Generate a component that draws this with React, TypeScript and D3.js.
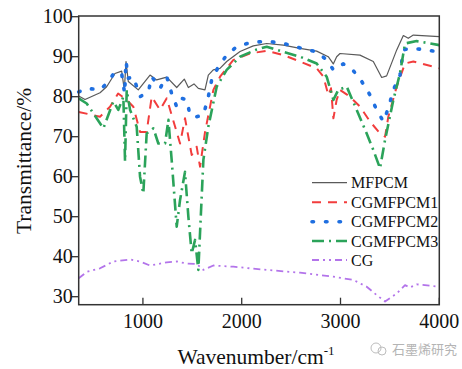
import React, { useEffect, useRef } from "react";
import * as d3 from "d3";

// wavenumber / transmittance pairs
const mfpcm = [
  [350, 80.2], [414, 79.3], [566, 81], [633, 82.5], [717, 85.8], [785, 86.4], [812, 81.7], [829, 88.8],
  [852, 83.8], [953, 81.7], [1072, 85.4], [1139, 84.2], [1241, 84.9], [1342, 82.3], [1419, 84.4],
  [1460, 82.3], [1517, 83.2], [1561, 82.1], [1628, 81.7], [1662, 85.4], [1712, 86.7], [1780, 87.1],
  [1848, 88.8], [1983, 91.3], [2117, 92.7], [2253, 93.3], [2421, 92.9], [2590, 92.1], [2759, 91.4],
  [2876, 90], [2927, 88.2], [2961, 90], [2995, 90.8], [3197, 90.4], [3332, 88.8], [3417, 84.8],
  [3467, 85.2], [3569, 91.7], [3636, 95.3], [3686, 94.6], [3737, 95.4], [4000, 95]
];
const cgmfpcm1 = [
  [350, 76.2], [566, 75], [667, 77.5], [749, 80.8], [836, 79.2], [903, 77.5], [971, 71.2], [1038, 71.2],
  [1089, 80], [1173, 76.7], [1241, 79.6], [1376, 68.3], [1426, 74.6], [1494, 65.4], [1544, 67.5],
  [1578, 62.5], [1629, 71.2], [1713, 81.7], [1781, 85], [1916, 89.2], [2084, 90.8], [2253, 91.5],
  [2422, 90.4], [2590, 88.8], [2759, 87.1], [2827, 85], [2877, 80.4], [2904, 82.1], [2928, 74.6],
  [2961, 79.2], [2995, 81.7], [3096, 80], [3198, 77.5], [3299, 73.8], [3400, 70.8], [3451, 70],
  [3484, 75], [3569, 82.5], [3653, 88.3], [3737, 88.8], [4000, 87.1]
];
const cgmfpcm2 = [
  [350, 81.2], [431, 82.1], [566, 81.7], [633, 83.3], [718, 86.2], [785, 85.8], [815, 80.8], [829, 88.8],
  [853, 84.6], [903, 85], [971, 80], [1055, 81.2], [1089, 85], [1173, 82.1], [1241, 85], [1291, 80.8],
  [1342, 77.5], [1393, 79.6], [1443, 79.2], [1477, 75.4], [1544, 75], [1612, 75.4], [1662, 80],
  [1696, 84.2], [1764, 87.5], [1848, 90.4], [1949, 92.5], [2084, 93.5], [2253, 93.9], [2422, 93.3],
  [2590, 92.2], [2759, 91.2], [2860, 89.2], [2928, 86.7], [3029, 88.2], [3130, 86.5], [3215, 83.8],
  [3299, 80.4], [3366, 76.7], [3434, 73.8], [3484, 77.1], [3535, 81.7], [3602, 85.4], [3636, 91.7],
  [3703, 92.1], [3838, 91.8], [4000, 91.2]
];
const cgmfpcm3 = [
  [350, 79.6], [431, 78.3], [600, 72.1], [701, 78.8], [751, 76.7], [802, 80], [819, 63.8], [836, 81.7],
  [870, 76.7], [937, 72.5], [971, 60], [1004, 55.8], [1038, 70.8], [1106, 72.1], [1156, 68.3],
  [1224, 68.3], [1258, 74.2], [1291, 64.2], [1342, 47.5], [1376, 54.2], [1426, 61.2], [1460, 50],
  [1494, 40.8], [1528, 44.2], [1561, 36.7], [1612, 64.2], [1662, 72.5], [1747, 82.5], [1848, 86.7],
  [1983, 90], [2152, 91.8], [2253, 92.5], [2422, 91.2], [2590, 90], [2759, 88.3], [2860, 85],
  [2928, 79.2], [2978, 81.7], [3063, 82.5], [3164, 76.7], [3265, 70.8], [3332, 66.7], [3400, 62.1],
  [3451, 69.2], [3535, 79.2], [3602, 85.8], [3653, 93.3], [3771, 93.9], [4000, 92.9]
];
const cg = [
  [350, 34.6], [431, 36.2], [566, 37.1], [701, 38.8], [870, 39.3], [971, 38.8], [1072, 37.8],
  [1241, 38.6], [1342, 38.8], [1443, 38.3], [1544, 38.2], [1612, 36.7], [1713, 37.8], [1916, 37.5],
  [2253, 36.7], [2590, 36], [2928, 35], [3130, 34.2], [3265, 32.5], [3366, 30.4], [3451, 28.8],
  [3569, 30.8], [3653, 32.9], [3703, 32.3], [3771, 33.1], [4000, 32.5]
];

const seriesNames = ["MFPCM", "CGMFPCM1", "CGMFPCM2", "CGMFPCM3", "CG"];
const xTicks = [1000, 2000, 3000, 4000];
const yTicks = [30, 40, 50, 60, 70, 80, 90, 100];

const styles = [
  { color: "#5a5a5a", width: 1.2, dash: null, cap: "butt" },
  { color: "#f23d3d", width: 2, dash: "9,7", cap: "butt" },
  { color: "#1f6fe0", width: 3.6, dash: "1.5,12", cap: "round" },
  { color: "#2ba35a", width: 2.6, dash: "12,5,2,5", cap: "butt" },
  { color: "#b374ea", width: 1.8, dash: "7,4,2,4,2,4", cap: "butt" }
];

export default function App() {
  const ref = useRef<SVGSVGElement>(null);

  useEffect(() => {
    const svg = d3.select(ref.current);
    svg.selectAll("*").remove();

    const left = 78.7, right = 439.3, top = 16, bottom = 304.7;
    const x = d3.scaleLinear().domain([350, 4000]).range([left, right]);
    const y = d3.scaleLinear().domain([28, 100]).range([bottom, top + 0.7]);
    const font = "'Liberation Serif', 'Times New Roman', serif";

    const line = d3.line<number[]>().x(d => x(d[0])).y(d => y(d[1]));
    const all = [mfpcm, cgmfpcm1, cgmfpcm2, cgmfpcm3, cg];

    // draw the spectra, CG first so the others sit on top of it
    [4, 0, 1, 2, 3].forEach(i => {
      const s = styles[i];
      svg.append("path")
        .datum(all[i])
        .attr("d", line)
        .attr("fill", "none")
        .attr("stroke", s.color)
        .attr("stroke-width", s.width)
        .attr("stroke-dasharray", s.dash)
        .attr("stroke-linecap", s.cap)
        .attr("stroke-linejoin", "round");
    });

    // frame
    svg.append("rect")
      .attr("x", left).attr("y", top)
      .attr("width", right - left).attr("height", bottom - top)
      .attr("fill", "none").attr("stroke", "#333").attr("stroke-width", 1.5);

    // x ticks point inwards
    const gx = svg.append("g");
    xTicks.forEach(t => {
      gx.append("line")
        .attr("x1", x(t)).attr("x2", x(t))
        .attr("y1", bottom).attr("y2", bottom - 7)
        .attr("stroke", "#333").attr("stroke-width", 1.3);
      gx.append("text")
        .attr("x", x(t)).attr("y", 328)
        .attr("text-anchor", "middle")
        .style("font-family", font).style("font-size", "20px").attr("fill", "#111")
        .text(t);
    });

    // y ticks point outwards
    const gy = svg.append("g");
    yTicks.forEach(t => {
      gy.append("line")
        .attr("x1", left - 7).attr("x2", left)
        .attr("y1", y(t)).attr("y2", y(t))
        .attr("stroke", "#333").attr("stroke-width", 1.3);
      gy.append("text")
        .attr("x", left - 6).attr("y", y(t) + 6.5)
        .attr("text-anchor", "end")
        .style("font-family", font).style("font-size", "20px").attr("fill", "#111")
        .text(t);
    });

    // axis titles
    svg.append("text")
      .attr("transform", `translate(31, 161) rotate(-90)`)
      .attr("text-anchor", "middle")
      .style("font-family", font).style("font-size", "21.5px").attr("fill", "#111")
      .text("Transmittance/%");

    const xt = svg.append("text")
      .attr("x", 256).attr("y", 364)
      .attr("text-anchor", "middle")
      .style("font-family", font).style("font-size", "21.5px").attr("fill", "#111");
    xt.append("tspan").text("Wavenumber/cm");
    xt.append("tspan").attr("dy", -9).style("font-size", "13px").text("-1");

    // legend
    const legendY = [182.7, 202.3, 221.7, 241, 260];
    seriesNames.forEach((name, i) => {
      const s = styles[i];
      svg.append("line")
        .attr("x1", 312).attr("x2", 347)
        .attr("y1", legendY[i]).attr("y2", legendY[i])
        .attr("stroke", s.color)
        .attr("stroke-width", s.width)
        .attr("stroke-dasharray", s.dash)
        .attr("stroke-linecap", s.cap);
      svg.append("text")
        .attr("x", 351).attr("y", legendY[i] + 5.5)
        .style("font-family", font).style("font-size", "16px").attr("fill", "#111")
        .text(name);
    });

    // watermark
    const wm = svg.append("g").attr("opacity", 0.55);
    wm.append("circle").attr("cx", 376).attr("cy", 348).attr("r", 5)
      .attr("fill", "none").attr("stroke", "#888").attr("stroke-width", 1);
    wm.append("circle").attr("cx", 382).attr("cy", 351).attr("r", 4)
      .attr("fill", "none").attr("stroke", "#888").attr("stroke-width", 1);
    wm.append("text")
      .attr("x", 392).attr("y", 354)
      .style("font-family", "'Noto Sans CJK SC', sans-serif").style("font-size", "13px")
      .attr("fill", "#777")
      .text("石墨烯研究");
  }, []);

  return (
    <svg ref={ref} width={462} height={369}
      style={{ position: "absolute", left: 0, top: 0, background: "#fff" }} />
  );
}
